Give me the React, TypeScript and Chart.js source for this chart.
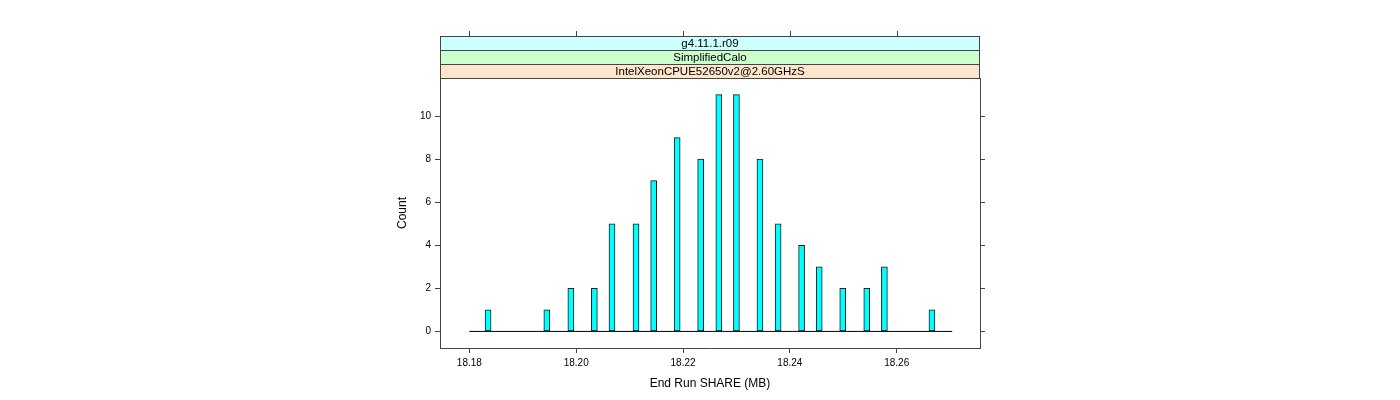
import React, { useEffect, useRef } from 'react';
import { Chart, registerables } from 'chart.js';

Chart.register(...registerables);

// ---- data ----
const binCenters = [
  18.1835, 18.1945, 18.199, 18.2034, 18.2067, 18.2112, 18.2145, 18.2189, 18.2233, 18.2267,
  18.23, 18.2344, 18.2378, 18.2422, 18.2455, 18.2499, 18.2544, 18.2577, 18.2666,
];
const counts = [1, 1, 2, 2, 5, 5, 7, 9, 8, 11, 11, 8, 5, 4, 3, 2, 2, 3, 1];
const baselineX = [18.18, 18.2704];
const xTickValues = [18.18, 18.2, 18.22, 18.24, 18.26];
const yTickValues = [0, 2, 4, 6, 8, 10];
const stripLabels = ['g4.11.1.r09', 'SimplifiedCalo', 'IntelXeonCPUE52650v2@2.60GHzS'];
const stripColors = ['#ccffff', '#ccffcc', '#ffe5cc'];
const xRange = [18.1745, 18.2756];
const yRange = [-0.77, 11.77];

const FONT = '"Liberation Sans", Arial, Helvetica, sans-serif';
const AXIS_COLOR = '#444444';
const STRIP_H = 14;

const stripPlugin = {
  id: 'latticeStrips',
  afterDraw(chart: any) {
    const { ctx, chartArea } = chart;
    const { left, right, top } = chartArea;
    const n = stripLabels.length;
    const y0 = top - STRIP_H * n;
    ctx.save();
    for (let i = 0; i < n; i++) {
      const y = y0 + i * STRIP_H;
      ctx.fillStyle = stripColors[i];
      ctx.fillRect(left, y, right - left, STRIP_H);
    }
    ctx.strokeStyle = AXIS_COLOR;
    ctx.lineWidth = 1;
    for (let i = 0; i < n; i++) {
      const y = Math.round(y0 + i * STRIP_H) + 0.5;
      ctx.strokeRect(Math.round(left) + 0.5, y, Math.round(right - left) - 1, STRIP_H);
    }
    ctx.fillStyle = '#000000';
    ctx.font = `11.5px ${FONT}`;
    ctx.textAlign = 'center';
    ctx.textBaseline = 'middle';
    for (let i = 0; i < n; i++) {
      const y = y0 + i * STRIP_H + STRIP_H / 2 + 0.5;
      ctx.fillText(stripLabels[i], (left + right) / 2, y);
    }
    // top axis tick marks (mirror of the bottom axis)
    const xs = chart.scales.x;
    ctx.beginPath();
    for (const t of xs.ticks) {
      const px = Math.round(xs.getPixelForValue(t.value)) + 0.5;
      ctx.moveTo(px, Math.round(y0));
      ctx.lineTo(px, Math.round(y0) - 5);
    }
    ctx.stroke();
    ctx.restore();
  },
};

export default function App() {
  const canvasRef = useRef<HTMLCanvasElement | null>(null);

  useEffect(() => {
    const canvas = canvasRef.current;
    if (!canvas) return;
    const gridCfg = {
      display: true,
      drawOnChartArea: false,
      drawTicks: true,
      tickLength: 5,
      color: AXIS_COLOR,
      lineWidth: 1,
      offset: false,
    };
    const borderCfg = { display: true, color: AXIS_COLOR, width: 1 };
    const chart = new Chart(canvas, {
      type: 'bar',
      data: {
        datasets: [
          {
            type: 'line',
            data: baselineX.map((x) => ({ x, y: 0 })),
            borderColor: '#000000',
            borderWidth: 1,
            pointRadius: 0,
            fill: false,
            order: 0,
          } as any,
          {
            type: 'bar',
            data: binCenters.map((x, i) => ({ x, y: counts[i] })),
            backgroundColor: '#00ffff',
            borderColor: '#1a1a1a',
            borderWidth: 1,
            borderSkipped: false,
            barThickness: 6,
            order: 1,
          } as any,
        ],
      },
      options: {
        animation: false,
        responsive: false,
        devicePixelRatio: 1,
        layout: { padding: { left: 380, right: 410, top: 78, bottom: 0 } },
        plugins: { legend: { display: false }, tooltip: { enabled: false } },
        scales: {
          x: {
            type: 'linear',
            position: 'bottom',
            min: xRange[0],
            max: xRange[1],
            offset: false,
            afterBuildTicks: (s: any) => {
              s.ticks = xTickValues.map((v) => ({ value: v }));
            },
            afterFit: (s: any) => {
              s.height = 52;
            },
            ticks: {
              color: '#000000',
              font: { family: FONT, size: 10 },
              padding: 4,
              maxRotation: 0,
              callback: (v: any) => Number(v).toFixed(2),
            },
            grid: gridCfg,
            border: borderCfg,
            title: {
              display: true,
              text: 'End Run SHARE (MB)',
              color: '#000000',
              font: { family: FONT, size: 12 },
              padding: { top: 0, bottom: 9 },
            },
          },
          y: {
            type: 'linear',
            position: 'left',
            min: yRange[0],
            max: yRange[1],
            afterBuildTicks: (s: any) => {
              s.ticks = yTickValues.map((v) => ({ value: v }));
            },
            afterFit: (s: any) => {
              s.width = 60;
            },
            ticks: {
              color: '#000000',
              font: { family: FONT, size: 10 },
              padding: 4,
              callback: (v: any) => String(v),
            },
            grid: gridCfg,
            border: borderCfg,
            title: {
              display: true,
              text: 'Count',
              color: '#000000',
              font: { family: FONT, size: 12 },
              padding: { top: 15, bottom: 0 },
            },
          },
          yRight: {
            type: 'linear',
            position: 'right',
            min: yRange[0],
            max: yRange[1],
            afterBuildTicks: (s: any) => {
              s.ticks = yTickValues.map((v) => ({ value: v }));
            },
            afterFit: (s: any) => {
              s.width = 10;
            },
            ticks: { display: false },
            grid: gridCfg,
            border: borderCfg,
          },
        },
      } as any,
      plugins: [stripPlugin],
    });
    return () => chart.destroy();
  }, []);

  return (
    <div style={{ position: 'absolute', left: 0, top: 0, width: 1400, height: 400, background: '#ffffff' }}>
      <canvas ref={canvasRef} width={1400} height={400} style={{ display: 'block', width: 1400, height: 400 }} />
    </div>
  );
}
